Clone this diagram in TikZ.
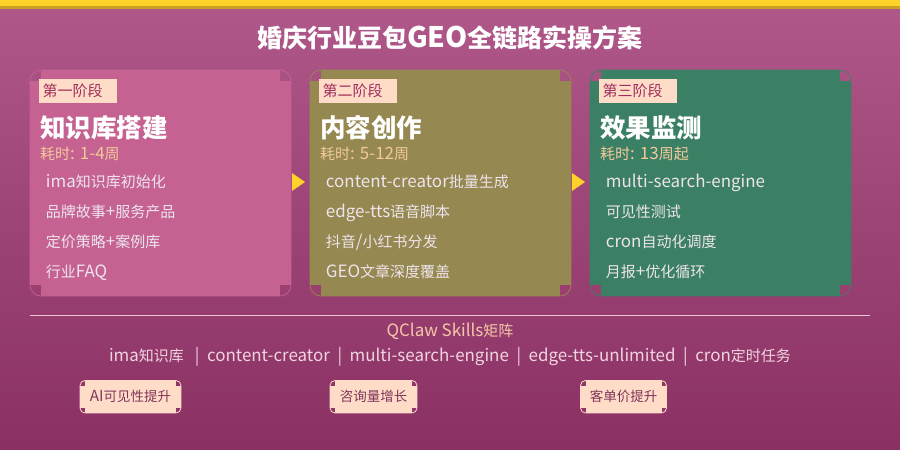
\documentclass[tikz,border=0pt]{standalone}
\usepackage{fontspec}
\setmainfont{Noto Sans CJK SC}
\newfontfamily\latfam[Scale=1.13]{Noto Sans CJK SC}
\newcommand\lt[1]{{\latfam #1}}
\definecolor{bgtop}{HTML}{B0588A}
\definecolor{bgbot}{HTML}{8A3062}
\definecolor{gold}{HTML}{FFD22A}
\definecolor{golddark}{HTML}{C9A024}
\definecolor{cardA}{HTML}{C56292}
\definecolor{cardB}{HTML}{958850}
\definecolor{cardC}{HTML}{3B8064}
\definecolor{cornTop}{HTML}{AA5183}
\definecolor{cornBot}{HTML}{9A3F70}
\definecolor{cornBadge}{HTML}{8F3567}
\definecolor{peach}{HTML}{FFDCC8}
\definecolor{labeltxt}{HTML}{A02E5E}
\definecolor{tan}{HTML}{F2C99A}
\definecolor{itemtxt}{HTML}{EEE4EC}
\definecolor{badgetxt}{HTML}{7F3558}
\definecolor{sepcol}{HTML}{F0C4D4}
\definecolor{skillcol}{HTML}{F2D4E0}
\definecolor{qclawcol}{HTML}{F5C8A8}
\tikzset{
  labelbox/.style={fill=peach, text=labeltxt, font=\fontsize{15}{18}\selectfont, text width=70, align=left, inner xsep=4, inner ysep=0, minimum height=24.5, anchor=north west},
  cardtitle/.style={text=white, font=\bfseries\fontsize{25.5}{30}\selectfont, inner sep=0, anchor=base west},
  timetxt/.style={text=tan, font=\fontsize{15}{18}\selectfont, inner sep=0, anchor=base west},
  itemnode/.style={text=itemtxt, font=\fontsize{15}{18}\selectfont, inner sep=0, anchor=base west},
  badgetext/.style={text=badgetxt, font=\fontsize{13.5}{16}\selectfont, inner sep=0, anchor=base},
}
\newcommand\stagecard[7]{%
  \fill[#3] (#2,70) rectangle ++(261,226);
  \fill[cornTop] (#2,70) rectangle ++(11,11);
  \fill[cornTop] (#2+250,70) rectangle ++(11,11);
  \fill[cornBot] (#2,285) rectangle ++(11,11);
  \fill[cornBot] (#2+250,285) rectangle ++(11,11);
  \draw[#3, line width=0.7, rounded corners=11] (#2,70) rectangle ++(261,226);
  \node[labelbox] (#1lab) at (#2+8.3,78.3) {#4};
  \node[cardtitle] (#1title) at (#2+10,137.5) {#5};
  \node[timetxt] (#1time) at (#2+10,159.3) {#6};
  \foreach \t [count=\i] in {#7} {
    \node[itemnode] (#1item\i) at (#2+15.7,{187.3+29.9*(\i-1)}) {\t};
  }
}
\newcommand\badge[4]{%
  \fill[peach] (#2,380.5) rectangle (#3,413);
  \fill[cornBadge] (#2,380.5) rectangle ++(5,5);
  \fill[cornBadge] (#3-5,380.5) rectangle ++(5,5);
  \fill[cornBadge] (#2,408) rectangle ++(5,5);
  \fill[cornBadge] (#3-5,408) rectangle ++(5,5);
  \draw[peach, line width=0.8, rounded corners=5] (#2,380.5) rectangle (#3,413);
  \node[badgetext] (#1) at ({(#2+#3)/2},401.5) {#4};
}
\begin{document}
\begin{tikzpicture}[x=1pt,y=-1pt]
\useasboundingbox (0,0) rectangle (900,450);
\shade[top color=bgtop, bottom color=bgbot] (0,0) rectangle (900,450);
\fill[gold] (0,0) rectangle (900,5.5);
\fill[golddark] (0,5.5) rectangle (900,8.5);
\node[text=white, font=\bfseries\fontsize{25}{30}\selectfont, inner sep=0, anchor=base] (title) at (450,47) {婚庆行业豆包\lt{GEO}全链路实操方案};

\stagecard{s1}{30}{cardA}{第一阶段}{知识库搭建}{耗时\lt{: 1-4}周}{\lt{ima}知识库初始化,品牌故事\lt{+}服务产品,定价策略\lt{+}案例库,行业\lt{FAQ}}
\stagecard{s2}{310}{cardB}{第二阶段}{内容创作}{耗时\lt{: 5-12}周}{\lt{content-creator}批量生成,\lt{edge-tts}语音脚本,抖音\lt{/}小红书分发,\lt{GEO}文章深度覆盖}
\stagecard{s3}{590}{cardC}{第三阶段}{效果监测}{耗时\lt{: 13}周起}{\lt{multi-search-engine},可见性测试,\lt{cron}自动化调度,月报\lt{+}优化循环}

\coordinate (arrA) at (292,182);
\coordinate (arrB) at (572,182);
\fill[gold] (arrA) ++(0,-9) -- ++(0,18) -- ++(13,-9) -- cycle;
\fill[gold] (arrB) ++(0,-9) -- ++(0,18) -- ++(13,-9) -- cycle;

\coordinate (sepL) at (30,315);
\coordinate (sepR) at (870,315);
\draw[sepcol, line width=1] (sepL) -- (sepR);

\node[text=qclawcol, font=\fontsize{15}{18}\selectfont, inner sep=0, anchor=base] (qclaw) at (450,336.3) {\lt{QClaw Skills}矩阵};
\node[text=skillcol, font=\fontsize{15}{18}\selectfont, inner sep=0, anchor=base] (skills) at (450,361.3) {\lt{ima}知识库 \lt{\ \ |\ \ content-creator\ \ |\ \ multi-search-engine\ \ |\ \ edge-tts-unlimited\ \ |\ \ cron}定时任务};

\badge{b1}{80}{181}{\lt{AI}可见性提升}
\badge{b2}{330}{417}{咨询量增长}
\badge{b3}{580.5}{666.5}{客单价提升}
\end{tikzpicture}
\end{document}
